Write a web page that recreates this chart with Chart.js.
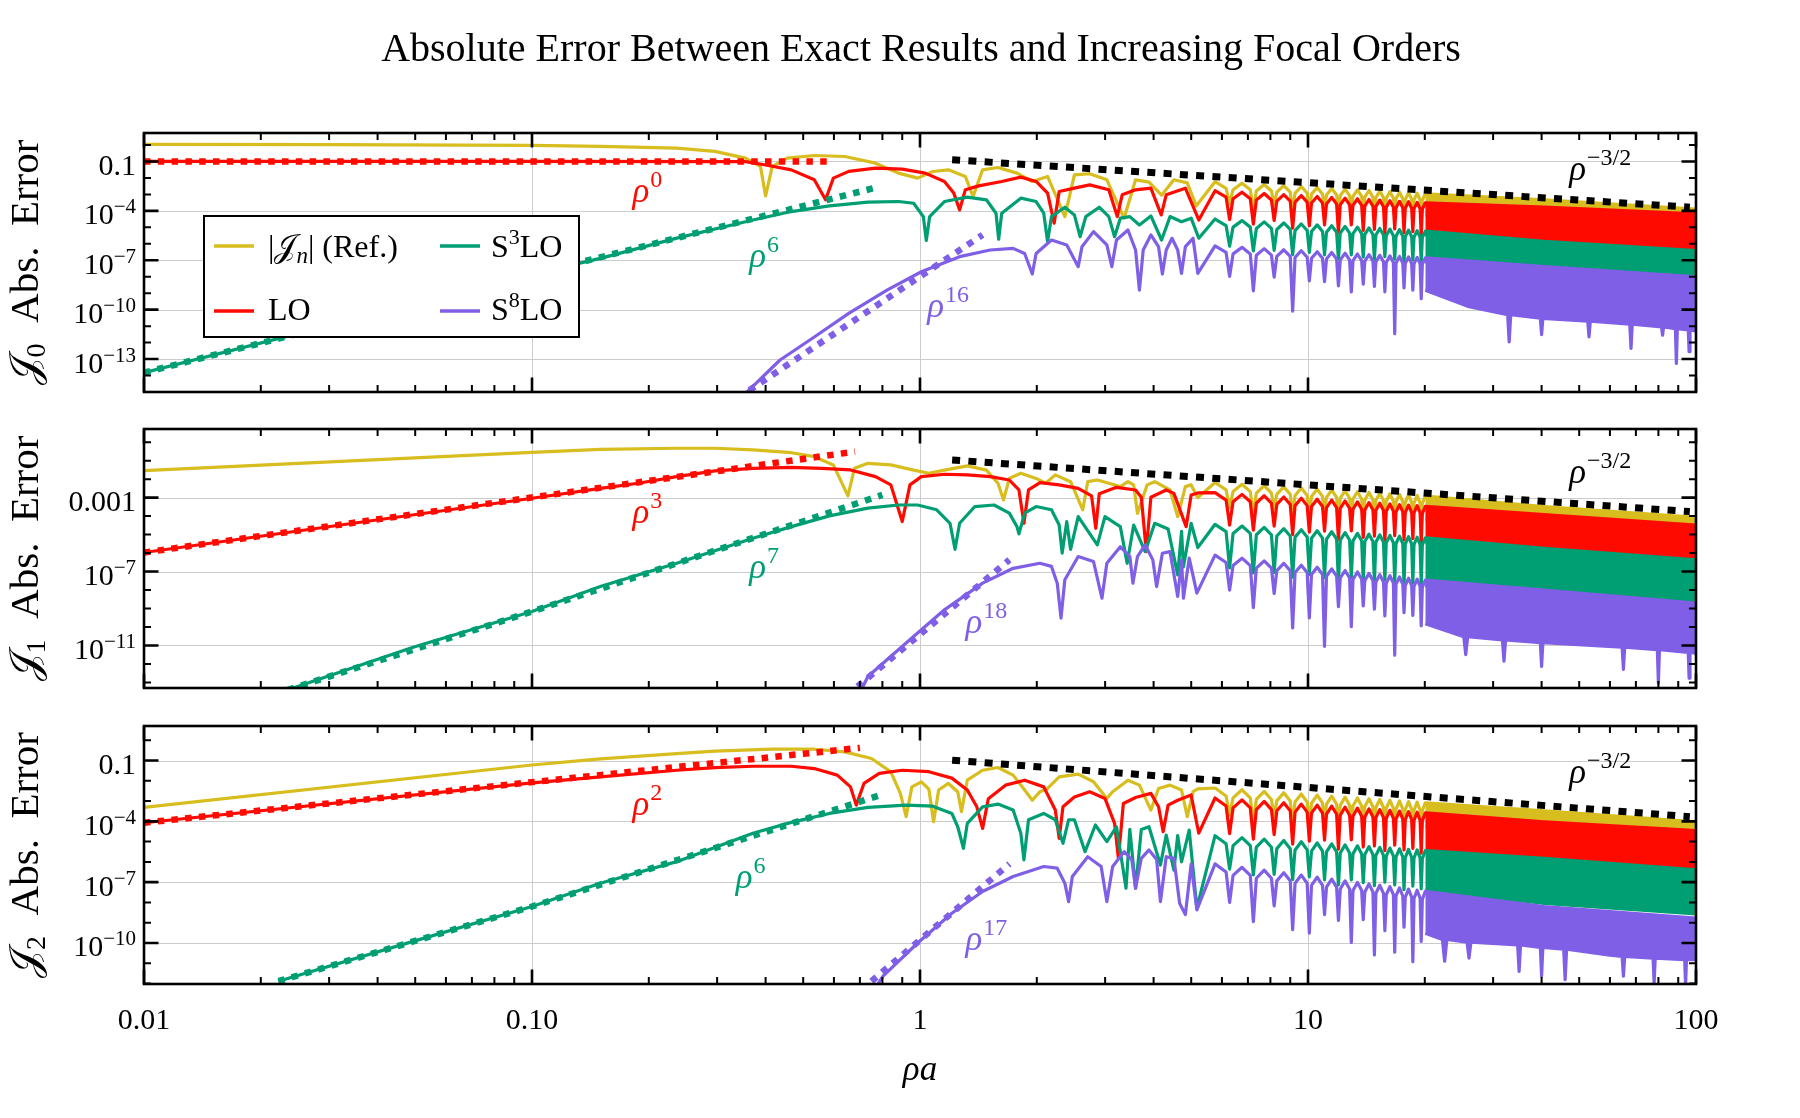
<!DOCTYPE html>
<html><head><meta charset="utf-8">
<script src="https://cdn.jsdelivr.net/npm/chart.js@4.4.1/dist/chart.umd.min.js"></script>
<style>
html,body{margin:0;padding:0;background:#fff;}
#wrap{position:relative;width:1800px;height:1118px;overflow:hidden;background:#fff;}
canvas{position:absolute;left:0;top:0;}
</style></head><body>
<div id="wrap">
<canvas id="c1" width="1800" height="1118"></canvas>
<canvas id="c2" width="1800" height="1118"></canvas>
<canvas id="c3" width="1800" height="1118"></canvas>
</div>
<script>
// ---------------- DATA (read / estimated from the reference picture) ----------------
const xTickValues = [0.01, 0.1, 1, 10, 100];
const xTickLabels = ["0.01", "0.10", "1", "10", "100"];
const seriesNames = ["|Jn| (Ref.)", "LO", "S3LO", "S8LO"];

// ===== Panel 1 : J0 =====
const p1_yTickValues = [1e-1, 1e-4, 1e-7, 1e-10, 1e-13];
const p1_yTickLabels = ["0.1", "10^\u22124", "10^\u22127", "10^\u221210", "10^\u221213"];
const p1_ref = [[0.01,1.1],[0.03,1.05],[0.1,0.95],[0.15,0.82],[0.236,0.65],[0.296,0.41],[0.355,0.16],[0.388,0.05],[0.400,8e-4],[0.416,0.05],[0.455,0.16],[0.534,0.23],[0.640,0.2],[0.768,0.079],[0.880,0.0196],[0.986,0.0097],[1.079,0.0247],[1.183,0.031],[1.309,0.0123],[1.370,7.4e-4],[1.450,0.031],[1.588,0.043],[1.778,0.0196],[1.947,0.0061],[2.132,0.0123],[2.362,4.5e-5],[2.500,0.0155],[2.737,0.018],[3.031,0.0077],[3.358,3.6e-5],[3.594,0.0077],[3.892,0.0056],[4.194,9e-4],[4.512,0.0077],[4.885,0.005],[5.15,2e-4]];
const p1_refZig = [[5.76,5.9e-3],[6.15,2.36e-3],[6.28,2.65e-4],[6.41,1.92e-3],[6.76,4.8e-3],[7.10,1.92e-3],[7.23,1.1e-4],[7.36,1.6e-3],[7.71,4.0e-3],[8.05,1.6e-3],[8.18,2.3e-4],[8.31,1.36e-3],[8.66,3.4e-3],[9.00,1.36e-3],[9.13,1.0e-4],[9.26,1.2e-3],[9.61,3.0e-3],[9.95,1.2e-3],[10.08,1.1e-4],[10.21,1.04e-3],[10.56,2.6e-3],[10.90,1.04e-3],[11.03,1.56e-4],[11.16,9.2e-4],[11.51,2.3e-3],[11.85,9.2e-4],[11.98,5.5e-5],[12.11,8.4e-4],[12.46,2.1e-3],[12.80,8.4e-4],[12.93,1.0e-4],[13.06,7.6e-4],[13.41,1.9e-3],[13.75,7.6e-4],[13.88,5.7e-5],[14.01,6.9e-4],[14.36,1.73e-3],[14.70,6.9e-4],[14.83,6.6e-5],[14.96,6.4e-4],[15.31,1.59e-3],[15.65,6.4e-4],[15.78,3.8e-5],[15.91,5.8e-4],[16.26,1.46e-3],[16.60,5.8e-4],[16.73,7.0e-5],[16.86,5.4e-4],[17.21,1.35e-3],[17.55,5.4e-4],[17.68,4.1e-5],[17.81,5.0e-4],[18.16,1.26e-3],[18.50,5.0e-4],[18.63,4.9e-5],[18.76,4.7e-4],[19.11,1.18e-3],[19.45,4.7e-4],[19.58,2.9e-5],[19.71,4.4e-4],[20.06,1.1e-3]];
const p1_refTail = [[40.6,4.7e-4],[100,1.26e-4]];
const p1_refFloor = [[20.06,5e-5],[40.6,6e-5],[100,3.6e-5]];
const p1_lo = [[0.01,0.1],[0.1,0.1],[0.355,0.098],[0.397,0.063],[0.466,0.031],[0.534,0.0077],[0.571,4.7e-4],[0.598,0.0097],[0.655,0.025],[0.768,0.039],[0.900,0.034],[1.031,0.0196],[1.156,0.0061],[1.222,1.2e-3],[1.265,1.15e-4],[1.309,1.9e-3],[1.417,3.3e-3],[1.624,6.1e-3],[1.819,0.0112],[1.992,6.1e-3],[2.132,1.19e-3],[2.217,1.8e-5],[2.284,1.5e-3],[2.500,2.4e-3],[2.737,3.8e-3],[3.066,1.9e-3],[3.224,4.5e-5],[3.320,9.4e-4],[3.594,1.9e-3],[3.936,2.4e-3],[4.185,5.7e-5],[4.311,9.4e-4],[4.830,2.4e-3],[5.23,2.8e-5]];
const p1_loZig = [[5.76,1.69e-3],[6.15,6.8e-4],[6.28,3.0e-5],[6.41,5.4e-4],[6.76,1.36e-3],[7.10,5.4e-4],[7.23,1.56e-5],[7.36,4.6e-4],[7.71,1.14e-3],[8.05,4.6e-4],[8.18,2.6e-5],[8.31,3.9e-4],[8.66,9.7e-4],[9.00,3.9e-4],[9.13,9.0e-6],[9.26,3.4e-4],[9.61,8.5e-4],[9.95,3.4e-4],[10.08,1.25e-5],[10.21,3.0e-4],[10.56,7.4e-4],[10.90,3.0e-4],[11.03,1.4e-5],[11.16,2.6e-4],[11.51,6.6e-4],[11.85,2.6e-4],[11.98,5.0e-6],[12.11,2.36e-4],[12.46,5.9e-4],[12.80,2.36e-4],[12.93,1.42e-5],[13.06,2.16e-4],[13.41,5.4e-4],[13.75,2.16e-4],[13.88,6.5e-6],[14.01,1.96e-4],[14.36,4.9e-4],[14.70,1.96e-4],[14.83,7.4e-6],[14.96,1.8e-4],[15.31,4.5e-4],[15.65,1.8e-4],[15.78,4.3e-6],[15.91,1.64e-4],[16.26,4.1e-4],[16.60,1.64e-4],[16.73,8.0e-6],[16.86,1.52e-4],[17.21,3.8e-4],[17.55,1.52e-4],[17.68,4.7e-6],[17.81,1.44e-4],[18.16,3.6e-4],[18.50,1.44e-4],[18.63,5.5e-6],[18.76,1.32e-4],[19.11,3.3e-4],[19.45,1.32e-4],[19.58,3.2e-6],[19.71,1.24e-4],[20.06,3.1e-4]];
const p1_loTail = [[40.6,1.67e-4],[100,6.6e-5]];
const p1_loFloor = [[20.06,3.5e-6],[40.6,1.7e-6],[100,5.3e-7]];
const p1_s3 = [[0.01,1.5e-14],[0.1,1.45e-8],[0.15,1.3e-7],[0.236,2.2e-6],[0.371,2.8e-5],[0.466,9.1e-5],[0.584,2e-4],[0.734,3.4e-4],[0.880,3.7e-4],[0.963,2.9e-4],[1.020,4.5e-5],[1.038,1.6e-6],[1.059,4.5e-5],[1.156,3.7e-4],[1.324,6.8e-4],[1.483,4.7e-4],[1.570,7.2e-5],[1.595,1.9e-6],[1.624,7.2e-5],[1.819,5.9e-4],[1.992,3.7e-4],[2.084,7.2e-5],[2.132,1.35e-6],[2.182,4.5e-5],[2.362,1.67e-4],[2.500,5.7e-5],[2.586,2.7e-6],[2.675,4.5e-5],[2.897,1.67e-4],[3.066,4.5e-5],[3.173,2.7e-6],[3.283,3.6e-5],[3.474,4.5e-5],[3.677,1.4e-5],[3.936,4.9e-5],[4.194,1.7e-6],[4.410,4.5e-5],[4.721,2.2e-5],[4.998,3.6e-5],[5.23,2.2e-6]];
const p1_s3Zig = [[5.76,3.2e-5],[6.15,1.28e-5],[6.28,7.1e-7],[6.41,1.03e-5],[6.76,2.57e-5],[7.10,1.03e-5],[7.23,3.7e-7],[7.36,8.6e-6],[7.71,2.15e-5],[8.05,8.6e-6],[8.18,4.0e-7],[8.31,7.4e-6],[8.66,1.84e-5],[9.00,7.4e-6],[9.13,2.2e-7],[9.26,6.4e-6],[9.61,1.6e-5],[9.95,6.4e-6],[10.08,3.0e-7],[10.21,5.6e-6],[10.56,1.41e-5],[10.90,5.6e-6],[11.03,2.1e-7],[11.16,5.0e-6],[11.51,1.25e-5],[11.85,5.0e-6],[11.98,1.19e-7],[12.11,4.5e-6],[12.46,1.13e-5],[12.80,4.5e-6],[12.93,2.1e-7],[13.06,4.1e-6],[13.41,1.02e-5],[13.75,4.1e-6],[13.88,1.54e-7],[14.01,3.7e-6],[14.36,9.3e-6],[14.70,3.7e-6],[14.83,1.12e-7],[14.96,3.4e-6],[15.31,8.5e-6],[15.65,3.4e-6],[15.78,1.64e-7],[15.91,3.1e-6],[16.26,7.8e-6],[16.60,3.1e-6],[16.73,1.2e-7],[16.86,2.9e-6],[17.21,7.3e-6],[17.55,2.9e-6],[17.68,7.0e-8],[17.81,2.7e-6],[18.16,6.8e-6],[18.50,2.7e-6],[18.63,1.04e-7],[18.76,2.5e-6],[19.11,6.3e-6],[19.45,2.5e-6],[19.58,7.7e-8],[19.71,2.36e-6],[20.06,5.9e-6]];
const p1_s3Tail = [[40.6,1.4e-6],[100,3.8e-7]];
const p1_s3Floor = [[20.06,8e-8],[40.6,2e-8],[100,5e-9]];
const p1_s8 = [[0.34,3e-16],[0.435,8.5e-14],[0.534,2.2e-12],[0.655,5.9e-11],[0.822,1.55e-9],[1.008,2e-8],[1.265,1.66e-7],[1.517,4.2e-7],[1.738,5.3e-7],[1.861,2.6e-7],[1.947,1.46e-8],[1.992,2.6e-7],[2.182,1.7e-6],[2.389,8.5e-7],[2.557,4.1e-8],[2.615,6.7e-7],[2.800,5.5e-6],[3.031,8.5e-7],[3.122,4.1e-8],[3.209,1.7e-6],[3.435,6.9e-6],[3.594,4.2e-7],[3.677,1.55e-9],[3.761,4.2e-7],[3.936,3.45e-6],[4.119,6.7e-7],[4.214,1.46e-8],[4.311,4.2e-7],[4.461,2.16e-6],[4.615,4.2e-7],[4.721,1.6e-8],[4.830,6.7e-7],[5.055,2.16e-6],[5.20,1.6e-8]];
const p1_s8Zig = [[5.76,7.5e-7],[6.15,3.0e-7],[6.28,1.06e-8],[6.41,2.44e-7],[6.76,6.1e-7],[7.10,2.44e-7],[7.23,1.4e-9],[7.36,2.04e-7],[7.71,5.1e-7],[8.05,2.04e-7],[8.18,9.4e-9],[8.31,1.74e-7],[8.66,4.35e-7],[9.00,1.74e-7],[9.13,8e-11],[9.26,1.52e-7],[9.61,3.8e-7],[9.95,1.52e-7],[10.08,5.6e-9],[10.21,1.32e-7],[10.56,3.3e-7],[10.90,1.32e-7],[11.03,5.0e-9],[11.16,1.18e-7],[11.51,2.96e-7],[11.85,1.18e-7],[11.98,2.8e-9],[12.11,1.06e-7],[12.46,2.66e-7],[12.80,1.06e-7],[12.93,1.2e-9],[13.06,9.6e-8],[13.41,2.4e-7],[13.75,9.6e-8],[13.88,3.6e-9],[14.01,8.8e-8],[14.36,2.19e-7],[14.70,8.8e-8],[14.83,2.6e-9],[14.96,8.0e-8],[15.31,2.0e-7],[15.65,8.0e-8],[15.78,1.22e-9],[15.91,7.4e-8],[16.26,1.85e-7],[16.60,7.4e-8],[16.73,3.5e-12],[16.86,6.9e-8],[17.21,1.72e-7],[17.55,6.9e-8],[17.68,2.1e-9],[17.81,6.4e-8],[18.16,1.6e-7],[18.50,6.4e-8],[18.63,1.55e-9],[18.76,6.0e-8],[19.11,1.5e-7],[19.45,6.0e-8],[19.58,4.6e-10],[19.71,5.6e-8],[20.06,1.39e-7]];
const p1_s8Tail = [[40.6,4.1e-8],[100,1e-8]];
const p1_s8Floor = [[20.06,1.5e-9],[26,1.5e-10],[32.7,5e-11],[33,1.1e-12],[33.3,5e-11],[39.7,3e-11],[40,3e-12],[40.3,3e-11],[52.6,2e-11],[53,2.2e-12],[53.4,2e-11],[67.5,1.3e-11],[68,4.4e-13],[68.5,1.3e-11],[81.5,9e-12],[82,2.8e-12],[82.5,9e-12],[88.5,7e-12],[89,5.4e-14],[89.5,7e-12],[95.5,6e-12],[96,2.8e-13],[96.5,6e-12],[100,5e-12]];
const p1_fitLO = [[0.01,0.1],[0.598,0.1]];
const p1_fitS3 = [[0.01,1.5e-14],[0.76,2.4e-3]];
const p1_fitS8 = [[0.363,1.26e-15],[1.45,3.5e-6]];
const p1_slope = [[1.21,0.127],[96.4,1.67e-4]];

// ===== Panel 2 : J1 =====
const p2_yTickValues = [1e-3, 1e-7, 1e-11];
const p2_yTickLabels = ["0.001", "10^\u22127", "10^\u221211"];
const p2_ref = [[0.01,0.029],[0.1,0.28],[0.15,0.41],[0.236,0.47],[0.296,0.47],[0.371,0.38],[0.466,0.27],[0.534,0.165],[0.598,0.059],[0.652,1.24e-3],[0.678,0.039],[0.734,0.072],[0.841,0.059],[0.963,0.031],[1.054,0.021],[1.156,0.031],[1.324,0.052],[1.483,0.031],[1.588,6e-3],[1.642,7.5e-4],[1.699,0.011],[1.819,0.021],[1.992,0.011],[2.108,6e-3],[2.232,0.017],[2.444,7.3e-3],[2.627,2.2e-4],[2.706,7.3e-3],[2.864,9e-3],[3.066,6e-3],[3.283,3.95e-3],[3.435,7.3e-3],[3.554,4.9e-3],[3.635,1.4e-4],[3.848,4.9e-3],[4.027,7.3e-3],[4.410,2.6e-3],[4.615,9.4e-5],[4.830,3.95e-3],[4.998,4.9e-3],[5.2,1e-3]];
const p2_refZig = [[5.76,6.6e-3],[6.15,2.64e-3],[6.28,2.9e-4],[6.41,2.12e-3],[6.76,5.3e-3],[7.10,2.12e-3],[7.23,1.21e-4],[7.36,1.76e-3],[7.71,4.4e-3],[8.05,1.76e-3],[8.18,2.6e-4],[8.31,1.52e-3],[8.66,3.8e-3],[9.00,1.52e-3],[9.13,1.11e-4],[9.26,1.32e-3],[9.61,3.3e-3],[9.95,1.32e-3],[10.08,1.23e-4],[10.21,1.16e-3],[10.56,2.9e-3],[10.90,1.16e-3],[11.03,1.72e-4],[11.16,1.03e-3],[11.51,2.58e-3],[11.85,1.03e-3],[11.98,6.1e-5],[12.11,9.3e-4],[12.46,2.32e-3],[12.80,9.3e-4],[12.93,1.1e-4],[13.06,8.4e-4],[13.41,2.09e-3],[13.75,8.4e-4],[13.88,6.3e-5],[14.01,7.6e-4],[14.36,1.91e-3],[14.70,7.6e-4],[14.83,7.3e-5],[14.96,7.0e-4],[15.31,1.75e-3],[15.65,7.0e-4],[15.78,4.2e-5],[15.91,6.4e-4],[16.26,1.61e-3],[16.60,6.4e-4],[16.73,7.8e-5],[16.86,6.0e-4],[17.21,1.49e-3],[17.55,6.0e-4],[17.68,4.6e-5],[17.81,5.6e-4],[18.16,1.39e-3],[18.50,5.6e-4],[18.63,5.4e-5],[18.76,5.2e-4],[19.11,1.3e-3],[19.45,5.2e-4],[19.58,3.2e-5],[19.71,4.8e-4],[20.06,1.21e-3]];
const p2_refTail = [[40.6,3.3e-4],[100,8.7e-5]];
const p2_refFloor = [[20.06,6e-5],[40.6,6e-5],[100,3.3e-5]];
const p2_lo = [[0.01,1.07e-6],[0.1,9.3e-4],[0.15,3.2e-3],[0.188,6e-3],[0.236,0.0137],[0.296,0.0278],[0.371,0.0387],[0.466,0.0438],[0.558,0.0387],[0.662,0.0315],[0.768,0.0137],[0.841,4.9e-3],[0.900,5.1e-5],[0.942,4.9e-3],[1.008,0.0137],[1.156,0.0184],[1.324,0.0169],[1.517,0.0137],[1.699,9e-3],[1.799,2.6e-3],[1.853,4.1e-5],[1.904,2.6e-3],[2.038,6.5e-3],[2.284,4.9e-3],[2.557,3.2e-3],[2.768,1.25e-3],[2.838,2.2e-5],[2.897,1.6e-3],[3.209,3.6e-3],[3.594,2.6e-3],[3.719,1.05e-3],[3.830,1.2e-6],[3.936,1.05e-3],[4.311,2.6e-3],[4.512,1.7e-3],[4.852,2.7e-5],[4.998,1.4e-3],[5.2,1.8e-3]];
const p2_loZig = [[5.76,1.86e-3],[6.15,7.4e-4],[6.28,3.3e-5],[6.41,6.0e-4],[6.76,1.5e-3],[7.10,6.0e-4],[7.23,1.73e-5],[7.36,5.0e-4],[7.71,1.26e-3],[8.05,5.0e-4],[8.18,2.9e-5],[8.31,4.3e-4],[8.66,1.08e-3],[9.00,4.3e-4],[9.13,1.0e-5],[9.26,3.7e-4],[9.61,9.3e-4],[9.95,3.7e-4],[10.08,1.38e-5],[10.21,3.3e-4],[10.56,8.2e-4],[10.90,3.3e-4],[11.03,1.55e-5],[11.16,2.9e-4],[11.51,7.3e-4],[11.85,2.9e-4],[11.98,5.5e-6],[12.11,2.64e-4],[12.46,6.6e-4],[12.80,2.64e-4],[12.93,1.57e-5],[13.06,2.36e-4],[13.41,5.9e-4],[13.75,2.36e-4],[13.88,7.1e-6],[14.01,2.16e-4],[14.36,5.4e-4],[14.70,2.16e-4],[14.83,8.2e-6],[14.96,2.0e-4],[15.31,5.0e-4],[15.65,2.0e-4],[15.78,4.8e-6],[15.91,1.84e-4],[16.26,4.6e-4],[16.60,1.84e-4],[16.73,8.8e-6],[16.86,1.68e-4],[17.21,4.2e-4],[17.55,1.68e-4],[17.68,5.2e-6],[17.81,1.56e-4],[18.16,3.9e-4],[18.50,1.56e-4],[18.63,6.0e-6],[18.76,1.48e-4],[19.11,3.7e-4],[19.45,1.48e-4],[19.58,3.6e-6],[19.71,1.36e-4],[20.06,3.4e-4]];
const p2_loTail = [[40.6,1.2e-4],[100,3.3e-5]];
const p2_loFloor = [[20.06,4e-6],[40.6,1.8e-6],[100,4.3e-7]];
const p2_s3 = [[0.0235,4e-14],[0.0494,8.1e-12],[0.1,6.9e-10],[0.15,1.55e-8],[0.236,2.8e-7],[0.371,6.4e-6],[0.466,2.7e-5],[0.584,1.03e-4],[0.734,2.7e-4],[0.880,4e-4],[0.986,4e-4],[1.104,2.2e-4],[1.195,4.1e-5],[1.231,1.6e-6],[1.265,4.1e-5],[1.385,3.3e-4],[1.552,4e-4],[1.699,1.45e-4],[1.778,2.7e-5],[1.799,1.1e-5],[1.861,1.45e-4],[1.992,3.3e-4],[2.182,2.2e-4],[2.284,3.3e-5],[2.325,1e-6],[2.389,5e-5],[2.444,1.6e-6],[2.557,9.4e-5],[2.864,2.8e-6],[2.997,9.4e-5],[3.283,2.7e-5],[3.419,2.8e-7],[3.554,3.3e-5],[3.804,1.2e-6],[4.027,4.1e-5],[4.360,2e-5],[4.615,6.6e-8],[4.722,1.5e-5],[4.775,1.8e-7],[4.998,4.1e-5],[5.2,2e-6]];
const p2_s3Zig = [[5.76,3.6e-5],[6.15,1.44e-5],[6.28,1.6e-7],[6.41,1.16e-5],[6.76,2.9e-5],[7.10,1.16e-5],[7.23,8.4e-8],[7.36,9.8e-6],[7.71,2.45e-5],[8.05,9.8e-6],[8.18,9e-8],[8.31,8.4e-6],[8.66,2.1e-5],[9.00,8.4e-6],[9.13,5e-8],[9.26,7.3e-6],[9.61,1.82e-5],[9.95,7.3e-6],[10.08,6.8e-8],[10.21,6.4e-6],[10.56,1.61e-5],[10.90,6.4e-6],[11.03,4.8e-8],[11.16,5.7e-6],[11.51,1.43e-5],[11.85,5.7e-6],[11.98,2.7e-8],[12.11,5.1e-6],[12.46,1.28e-5],[12.80,5.1e-6],[12.93,4.8e-8],[13.06,4.6e-6],[13.41,1.16e-5],[13.75,4.6e-6],[13.88,3.5e-8],[14.01,4.2e-6],[14.36,1.06e-5],[14.70,4.2e-6],[14.83,2.6e-8],[14.96,3.9e-6],[15.31,9.7e-6],[15.65,3.9e-6],[15.78,3.7e-8],[15.91,3.6e-6],[16.26,8.9e-6],[16.60,3.6e-6],[16.73,2.7e-8],[16.86,3.3e-6],[17.21,8.3e-6],[17.55,3.3e-6],[17.68,1.6e-8],[17.81,3.1e-6],[18.16,7.7e-6],[18.50,3.1e-6],[18.63,2.4e-8],[18.76,2.9e-6],[19.11,7.2e-6],[19.45,2.9e-6],[19.58,1.8e-8],[19.71,2.7e-6],[20.06,6.7e-6]];
const p2_s3Tail = [[40.6,1.8e-6],[100,4.3e-7]];
const p2_s3Floor = [[20.06,1.6e-8],[40.6,1e-8],[100,2.1e-9]];
const p2_s8 = [[0.71,5e-14],[0.734,2.1e-13],[0.921,1.35e-11],[1.156,8.5e-10],[1.450,2.35e-8],[1.738,1.5e-7],[2.038,2.8e-7],[2.182,1.9e-7],[2.258,2.35e-8],[2.309,3e-10],[2.362,3.6e-8],[2.557,6.5e-7],[2.800,3.5e-7],[2.944,3.6e-9],[3.031,2.8e-7],[3.283,2.2e-6],[3.474,6.5e-7],[3.538,2.35e-8],[3.635,6.5e-7],[3.804,2.8e-6],[3.981,4.3e-7],[4.073,1.55e-8],[4.214,9.8e-7],[4.410,1.2e-6],[4.615,4.5e-9],[4.722,4e-7],[4.775,3.6e-9],[4.941,5.3e-7],[5.171,6.8e-9]];
const p2_s8Zig = [[5.76,7.8e-7],[6.15,3.1e-7],[6.28,1.0e-8],[6.41,2.1e-7],[6.76,5.3e-7],[7.10,2.1e-7],[7.23,1.12e-9],[7.36,1.52e-7],[7.71,3.8e-7],[8.05,1.52e-7],[8.18,6.5e-9],[8.31,1.12e-7],[8.66,2.8e-7],[9.00,1.12e-7],[9.13,9e-11],[9.26,8.8e-8],[9.61,2.2e-7],[9.95,8.8e-8],[10.08,3.1e-10],[10.21,6.9e-8],[10.56,1.72e-7],[10.90,6.9e-8],[11.03,9e-12],[11.16,5.6e-8],[11.51,1.39e-7],[11.85,5.6e-8],[11.98,1.25e-9],[12.11,4.6e-8],[12.46,1.14e-7],[12.80,4.6e-8],[12.93,1.04e-10],[13.06,3.8e-8],[13.41,9.5e-8],[13.75,3.8e-8],[13.88,1.38e-9],[14.01,3.2e-8],[14.36,8.0e-8],[14.70,3.2e-8],[14.83,9.3e-10],[14.96,2.7e-8],[15.31,6.8e-8],[15.65,2.7e-8],[15.78,4.0e-10],[15.91,2.36e-8],[16.26,5.9e-8],[16.60,2.36e-8],[16.73,3e-12],[16.86,2.04e-8],[17.21,5.1e-8],[17.55,2.04e-8],[17.68,6.0e-10],[17.81,1.76e-8],[18.16,4.4e-8],[18.50,1.76e-8],[18.63,4.2e-10],[18.76,1.56e-8],[19.11,3.9e-8],[19.45,1.56e-8],[19.58,1.16e-10],[19.71,1.4e-8],[20.06,3.5e-8]];
const p2_s8Tail = [[40.6,1e-8],[100,1.95e-9]];
const p2_s8Floor = [[20.06,1.5e-10],[25.2,3e-11],[25.5,3.2e-12],[25.8,3e-11],[31.7,2e-11],[32,1.4e-12],[32.3,2e-11],[39.7,1.4e-11],[40,7.4e-13],[40.3,1.4e-11],[64.5,8e-12],[65,5e-13],[65.5,8e-12],[79.5,6e-12],[80,9.3e-14],[80.5,6e-12],[95.5,4.2e-12],[96,1.7e-13],[96.5,4.2e-12],[100,3.9e-12]];
const p2_fitLO = [[0.01,1.07e-6],[0.68,0.31]];
const p2_fitS3 = [[0.0235,4e-14],[0.1,6.9e-10],[0.8,1.4e-3]];
const p2_fitS8 = [[0.69,6e-14],[1.70,4.3e-7]];
const p2_slope = [[1.21,0.109],[96.4,1.76e-4]];

// ===== Panel 3 : J2 =====
const p3_yTickValues = [1e-1, 1e-4, 1e-7, 1e-10];
const p3_yTickLabels = ["0.1", "10^\u22124", "10^\u22127", "10^\u221210"];
const p3_ref = [[0.01,4.9e-4],[0.1,0.06],[0.15,0.12],[0.236,0.22],[0.296,0.29],[0.416,0.36],[0.534,0.36],[0.640,0.265],[0.750,0.125],[0.841,0.0276],[0.890,2.4e-3],[0.921,1.7e-4],[0.953,5e-3],[1.008,8.9e-3],[1.054,3.9e-3],[1.084,9.6e-5],[1.117,3.5e-3],[1.183,7.4e-3],[1.251,2.9e-3],[1.279,3e-4],[1.324,0.0107],[1.450,0.033],[1.588,0.045],[1.738,0.019],[1.861,3.5e-3],[1.947,1.1e-3],[2.038,2.9e-3],[2.132,4.2e-3],[2.284,0.0157],[2.557,0.0212],[2.800,8.9e-3],[3.031,1.35e-3],[3.137,2.9e-3],[3.435,0.0107],[3.677,6.1e-3],[3.936,3.6e-4],[4.119,4.2e-3],[4.410,6.1e-3],[4.721,3.5e-3],[4.885,1.7e-4],[5.055,2.9e-3],[5.2,4e-3]];
const p3_refZig = [[5.76,4.4e-3],[6.15,1.76e-3],[6.28,2.0e-4],[6.41,1.44e-3],[6.76,3.6e-3],[7.10,1.44e-3],[7.23,8.2e-5],[7.36,1.2e-3],[7.71,3.0e-3],[8.05,1.2e-3],[8.18,1.74e-4],[8.31,1.02e-3],[8.66,2.56e-3],[9.00,1.02e-3],[9.13,7.5e-5],[9.26,8.9e-4],[9.61,2.22e-3],[9.95,8.9e-4],[10.08,8.3e-5],[10.21,7.8e-4],[10.56,1.96e-3],[10.90,7.8e-4],[11.03,1.17e-4],[11.16,7.0e-4],[11.51,1.74e-3],[11.85,7.0e-4],[11.98,4.1e-5],[12.11,6.2e-4],[12.46,1.56e-3],[12.80,6.2e-4],[12.93,7.5e-5],[13.06,5.7e-4],[13.41,1.42e-3],[13.75,5.7e-4],[13.88,4.3e-5],[14.01,5.2e-4],[14.36,1.29e-3],[14.70,5.2e-4],[14.83,4.9e-5],[14.96,4.8e-4],[15.31,1.19e-3],[15.65,4.8e-4],[15.78,2.9e-5],[15.91,4.4e-4],[16.26,1.09e-3],[16.60,4.4e-4],[16.73,5.3e-5],[16.86,4.0e-4],[17.21,1.01e-3],[17.55,4.0e-4],[17.68,3.1e-5],[17.81,3.8e-4],[18.16,9.4e-4],[18.50,3.8e-4],[18.63,3.6e-5],[18.76,3.5e-4],[19.11,8.8e-4],[19.45,3.5e-4],[19.58,2.1e-5],[19.71,3.3e-4],[20.06,8.2e-4]];
const p3_refTail = [[40.6,3.3e-4],[100,9.5e-5]];
const p3_refFloor = [[20.06,5e-5],[40.6,5e-5],[100,3.7e-5]];
const p3_lo = [[0.01,8.5e-5],[0.1,7.9e-3],[0.15,0.0157],[0.236,0.033],[0.296,0.045],[0.371,0.052],[0.466,0.052],[0.534,0.040],[0.612,0.019],[0.662,5e-3],[0.685,6.3e-4],[0.717,7.4e-3],[0.785,0.023],[0.900,0.033],[1.054,0.028],[1.208,0.0135],[1.324,3.5e-3],[1.401,5.2e-4],[1.450,4.5e-5],[1.500,1.3e-3],[1.661,6.1e-3],[1.861,0.0107],[2.084,5e-3],[2.232,3.6e-4],[2.284,1.45e-5],[2.336,5.2e-4],[2.500,1.6e-3],[2.737,2.9e-3],[2.997,1.35e-3],[3.173,7.9e-5],[3.246,1.5e-6],[3.343,7.6e-4],[3.594,1.5e-3],[3.936,2.4e-3],[4.119,5.2e-4],[4.233,3.1e-5],[4.360,6.3e-4],[4.615,1.1e-3],[4.998,2e-3],[5.230,2.6e-5]];
const p3_loZig = [[5.76,1.42e-3],[6.15,5.7e-4],[6.28,2.5e-5],[6.41,4.6e-4],[6.76,1.14e-3],[7.10,4.6e-4],[7.23,1.32e-5],[7.36,3.8e-4],[7.71,9.6e-4],[8.05,3.8e-4],[8.18,2.2e-5],[8.31,3.3e-4],[8.66,8.2e-4],[9.00,3.3e-4],[9.13,7.6e-6],[9.26,2.84e-4],[9.61,7.1e-4],[9.95,2.84e-4],[10.08,1.05e-5],[10.21,2.52e-4],[10.56,6.3e-4],[10.90,2.52e-4],[11.03,1.18e-5],[11.16,2.24e-4],[11.51,5.6e-4],[11.85,2.24e-4],[11.98,4.2e-6],[12.11,2.0e-4],[12.46,5.0e-4],[12.80,2.0e-4],[12.93,1.2e-5],[13.06,1.8e-4],[13.41,4.5e-4],[13.75,1.8e-4],[13.88,5.4e-6],[14.01,1.64e-4],[14.36,4.1e-4],[14.70,1.64e-4],[14.83,6.2e-6],[14.96,1.52e-4],[15.31,3.8e-4],[15.65,1.52e-4],[15.78,3.6e-6],[15.91,1.4e-4],[16.26,3.5e-4],[16.60,1.4e-4],[16.73,6.7e-6],[16.86,1.28e-4],[17.21,3.2e-4],[17.55,1.28e-4],[17.68,3.9e-6],[17.81,1.2e-4],[18.16,3.0e-4],[18.50,1.2e-4],[18.63,4.6e-6],[18.76,1.12e-4],[19.11,2.8e-4],[19.45,1.12e-4],[19.58,2.7e-6],[19.71,1.04e-4],[20.06,2.6e-4]];
const p3_loTail = [[40.6,9.5e-5],[100,3.5e-5]];
const p3_loFloor = [[20.06,3e-6],[40.6,1.25e-6],[100,4e-7]];
const p3_s3 = [[0.0222,1.3e-12],[0.0494,1.2e-10],[0.1,6.3e-9],[0.15,8.9e-8],[0.236,1.03e-6],[0.371,2.6e-5],[0.466,8.9e-5],[0.584,2.45e-4],[0.734,4.9e-4],[0.921,6.3e-4],[1.079,5.6e-4],[1.208,2.45e-4],[1.251,5.4e-5],[1.294,4.7e-6],[1.324,7.9e-5],[1.450,5.2e-4],[1.588,7.1e-4],[1.738,3.6e-4],[1.819,2.6e-5],[1.853,1.25e-6],[1.904,1.2e-4],[2.084,2.45e-4],[2.232,1.2e-4],[2.336,8.2e-6],[2.416,1.2e-4],[2.500,1.2e-4],[2.663,3.2e-6],[2.832,6.6e-5],[3.031,1e-5],[3.209,5.4e-5],[3.396,5e-8],[3.474,4e-5],[3.594,5e-8],[3.719,4e-5],[3.892,5.4e-5],[4.166,7e-7],[4.311,2.1e-5],[4.512,3.9e-7],[4.615,2e-5],[4.721,1e-6],[4.941,3.7e-5],[5.171,5.2e-9]];
const p3_s3Zig = [[5.76,1.95e-5],[6.15,7.8e-6],[6.28,4.4e-7],[6.41,6.3e-6],[6.76,1.57e-5],[7.10,6.3e-6],[7.23,2.3e-7],[7.36,5.3e-6],[7.71,1.32e-5],[8.05,5.3e-6],[8.18,2.4e-7],[8.31,4.5e-6],[8.66,1.13e-5],[9.00,4.5e-6],[9.13,1.32e-7],[9.26,3.9e-6],[9.61,9.8e-6],[9.95,3.9e-6],[10.08,1.83e-7],[10.21,3.4e-6],[10.56,8.6e-6],[10.90,3.4e-6],[11.03,1.28e-7],[11.16,3.1e-6],[11.51,7.7e-6],[11.85,3.1e-6],[11.98,7.3e-8],[12.11,2.76e-6],[12.46,6.9e-6],[12.80,2.76e-6],[12.93,1.31e-7],[13.06,2.48e-6],[13.41,6.2e-6],[13.75,2.48e-6],[13.88,9.4e-8],[14.01,2.28e-6],[14.36,5.7e-6],[14.70,2.28e-6],[14.83,6.8e-8],[14.96,2.08e-6],[15.31,5.2e-6],[15.65,2.08e-6],[15.78,1.0e-7],[15.91,1.92e-6],[16.26,4.8e-6],[16.60,1.92e-6],[16.73,7.3e-8],[16.86,1.76e-6],[17.21,4.4e-6],[17.55,1.76e-6],[17.68,4.3e-8],[17.81,1.64e-6],[18.16,4.1e-6],[18.50,1.64e-6],[18.63,6.3e-8],[18.76,1.56e-6],[19.11,3.9e-6],[19.45,1.56e-6],[19.58,4.7e-8],[19.71,1.44e-6],[20.06,3.6e-6]];
const p3_s3Tail = [[40.6,1.5e-6],[100,4e-7]];
const p3_s3Floor = [[20.06,4e-8],[40.6,9e-9],[100,2.75e-9]];
const p3_s8 = [[0.78,1e-12],[0.803,2.3e-12],[0.986,1e-10],[1.208,2.95e-9],[1.450,3.45e-8],[1.738,1.9e-7],[2.084,5.9e-7],[2.258,4.9e-7],[2.362,8.9e-8],[2.416,1.1e-8],[2.470,1.9e-7],[2.706,1.8e-6],[2.930,5.9e-7],[3.031,1.1e-8],[3.137,5.9e-7],[3.358,3.2e-6],[3.514,1.3e-6],[3.594,5e-8],[3.719,1.5e-6],[3.892,3.9e-6],[4.073,1.3e-6],[4.166,1.1e-8],[4.311,1.8e-6],[4.512,1.5e-6],[4.668,9.2e-9],[4.830,2.5e-9],[4.998,7.7e-7],[5.171,4.3e-9]];
const p3_s8Zig = [[5.76,8.0e-7],[6.15,3.2e-7],[6.28,1.0e-8],[6.41,2.16e-7],[6.76,5.4e-7],[7.10,2.16e-7],[7.23,1.14e-9],[7.36,1.56e-7],[7.71,3.9e-7],[8.05,1.56e-7],[8.18,6.7e-9],[8.31,1.16e-7],[8.66,2.9e-7],[9.00,1.16e-7],[9.13,4.5e-10],[9.26,8.9e-8],[9.61,2.23e-7],[9.95,8.9e-8],[10.08,3.1e-10],[10.21,7.0e-8],[10.56,1.76e-7],[10.90,7.0e-8],[11.03,2.5e-9],[11.16,5.7e-8],[11.51,1.42e-7],[11.85,5.7e-8],[11.98,1.3e-9],[12.11,4.6e-8],[12.46,1.16e-7],[12.80,4.6e-8],[12.93,1.06e-10],[13.06,3.9e-8],[13.41,9.7e-8],[13.75,3.9e-8],[13.88,1.4e-9],[14.01,3.3e-8],[14.36,8.2e-8],[14.70,3.3e-8],[14.83,2.6e-11],[14.96,2.8e-8],[15.31,7.0e-8],[15.65,2.8e-8],[15.78,4.1e-10],[15.91,2.4e-8],[16.26,6.0e-8],[16.60,2.4e-8],[16.73,3.5e-11],[16.86,2.08e-8],[17.21,5.2e-8],[17.55,2.08e-8],[17.68,6.1e-10],[17.81,1.8e-8],[18.16,4.5e-8],[18.50,1.8e-8],[18.63,1.2e-11],[18.76,1.6e-8],[19.11,4.0e-8],[19.45,1.6e-8],[19.58,1.2e-10],[19.71,1.4e-8],[20.06,3.5e-8]];
const p3_s8Tail = [[40.6,6.3e-9],[100,1.7e-9]];
const p3_s8Floor = [[20.06,3e-10],[22.2,1.5e-10],[22.5,1.26e-11],[22.8,1.5e-10],[25.7,1.1e-10],[26,1.8e-11],[26.3,1.1e-10],[34.7,8e-11],[35,4e-12],[35.3,8e-11],[39.7,6e-11],[40,2.3e-12],[40.3,6e-11],[45.6,5e-11],[46,1.55e-12],[46.4,5e-11],[60,2.5e-11],[64.5,2.2e-11],[65,2.3e-12],[65.5,2.2e-11],[77.5,1.8e-11],[78,1.1e-12],[78.5,1.8e-11],[93.5,1.5e-11],[94,8e-13],[94.5,1.5e-11],[100,1.5e-11]];
const p3_fitLO = [[0.01,8.5e-5],[0.70,0.42]];
const p3_fitS3 = [[0.0222,1.3e-12],[0.1,6.3e-9],[0.79,1.95e-3]];
const p3_fitS8 = [[0.75,1.3e-12],[1.70,8e-7]];
const p3_slope = [[1.21,0.104],[96.4,1.69e-4]];

// ---------------- STYLE / LAYOUT ----------------
const COLORS = {ref:'#D8BD1E', lo:'#FF0A00', s3:'#009E73', s8:'#7F5FE6', k:'#000000'};
const SERIF = '"Liberation Serif","DejaVu Serif","Times New Roman",serif';
const MATHF = '"DejaVu Sans","DejaVu Serif","Noto Sans",serif';

const panels = [
  {id:1, top:133, bottom:392, yMin:1.0e-15, yMax:5.36, ytv:p1_yTickValues, ytl:p1_yTickLabels, sub:'0',
   series:{ref:[p1_ref,p1_refZig,p1_refTail,p1_refFloor], lo:[p1_lo,p1_loZig,p1_loTail,p1_loFloor], s3:[p1_s3,p1_s3Zig,p1_s3Tail,p1_s3Floor], s8:[p1_s8,p1_s8Zig,p1_s8Tail,p1_s8Floor]},
   fits:{lo:p1_fitLO, s3:p1_fitS3, s8:p1_fitS8}, slope:p1_slope,
   notes:[{x:0.1815,y:3.7e-4,sup:'0',c:'lo'},{x:0.363,y:4.1e-8,sup:'6',c:'s3'},{x:1.044,y:3.7e-11,sup:'16',c:'s8'},{x:47.1,y:7.7e-3,sup:'\u22123/2',c:'k'}]},
  {id:2, top:429, bottom:688, yMin:5.0e-14, yMax:5.18, ytv:p2_yTickValues, ytl:p2_yTickLabels, sub:'1',
   series:{ref:[p2_ref,p2_refZig,p2_refTail,p2_refFloor], lo:[p2_lo,p2_loZig,p2_loTail,p2_loFloor], s3:[p2_s3,p2_s3Zig,p2_s3Tail,p2_s3Floor], s8:[p2_s8,p2_s8Zig,p2_s8Tail,p2_s8Floor]},
   fits:{lo:p2_fitLO, s3:p2_fitS3, s8:p2_fitS8}, slope:p2_slope,
   notes:[{x:0.1815,y:4.2e-5,sup:'3',c:'lo'},{x:0.363,y:4.4e-8,sup:'7',c:'s3'},{x:1.31,y:4.7e-11,sup:'18',c:'s8'},{x:47.1,y:6e-3,sup:'\u22123/2',c:'k'}]},
  {id:3, top:726, bottom:984, yMin:9.5e-13, yMax:5.03, ytv:p3_yTickValues, ytl:p3_yTickLabels, sub:'2',
   series:{ref:[p3_ref,p3_refZig,p3_refTail,p3_refFloor], lo:[p3_lo,p3_loZig,p3_loTail,p3_loFloor], s3:[p3_s3,p3_s3Zig,p3_s3Tail,p3_s3Floor], s8:[p3_s8,p3_s8Zig,p3_s8Tail,p3_s8Floor]},
   fits:{lo:p3_fitLO, s3:p3_fitS3, s8:p3_fitS8}, slope:p3_slope,
   notes:[{x:0.1815,y:2e-4,sup:'2',c:'lo'},{x:0.335,y:5e-8,sup:'6',c:'s3'},{x:1.31,y:4.7e-11,sup:'17',c:'s8'},{x:47.1,y:7.4e-3,sup:'\u22123/2',c:'k'}]}
];

function pts(a){ return a.map(p => ({x:p[0], y:p[1]})); }
function font(p){ return (p.it ? 'italic ' : '') + p.s + 'px ' + (p.f || SERIF); }
function measure(ctx, parts){ let w = 0; for (const p of parts){ ctx.font = font(p); w += ctx.measureText(p.t).width + (p.gap||0); } return w; }
function drawRich(ctx, parts, x, y, align, color){
  const w = measure(ctx, parts);
  let cx = align === 'right' ? x - w : (align === 'center' ? x - w/2 : x);
  ctx.fillStyle = color || '#000'; ctx.textBaseline = 'alphabetic'; ctx.textAlign = 'left';
  for (const p of parts){ ctx.font = font(p); ctx.fillText(p.t, cx, y + (p.dy||0)); cx += ctx.measureText(p.t).width + (p.gap||0); }
}
function tickParts(label){
  const i = label.indexOf('^');
  if (i < 0) return [{t:label, s:30}];
  return [{t:label.slice(0,i), s:30}, {t:label.slice(i+1), s:21, dy:-11}];
}
function isMajor(v, list){ return list.some(t => Math.abs(Math.log10(t) - Math.log10(v)) < 1e-6); }

function buildDatasets(P){
  const ds = [];
  const order = {s8:5, s3:6, lo:7, ref:8};
  ['ref','lo','s3','s8'].forEach(k => {
    const [main, zig, tail, floor] = P.series[k];
    const idx = ds.length;
    ds.push({label:k, data:pts(main.concat(zig, tail)), borderColor:COLORS[k], borderWidth:3.2, pointRadius:0, fill:false, order:order[k], tension:0, clip:0});
    ds.push({label:k+'band', data:pts(floor), borderColor:COLORS[k], backgroundColor:COLORS[k], borderWidth:3.2, pointRadius:0, fill:{target:idx}, order:order[k], tension:0, clip:0});
  });
  const fo = {s8:2, s3:3, lo:4};
  ['lo','s3','s8'].forEach(k => {
    ds.push({label:k+'fit', data:pts(P.fits[k]), borderColor:COLORS[k], borderWidth:6.5, borderDash:[6.5,7.3], borderCapStyle:'butt', pointRadius:0, fill:false, order:fo[k], clip:0});
  });
  ds.push({label:'slope', data:pts(P.slope), borderColor:'#000', borderWidth:7, borderDash:[8,8.3], borderCapStyle:'butt', pointRadius:0, fill:false, order:0, clip:0});
  return ds;
}

function makePlugin(P){
  return {
    id:'panel'+P.id,
    beforeDatasetsDraw(chart){
      const ctx = chart.ctx, a = chart.chartArea, xs = chart.scales.x, ys = chart.scales.y;
      ctx.save(); ctx.strokeStyle = '#cccccc'; ctx.lineWidth = 1;
      for (const v of xTickValues){ const px = Math.round(xs.getPixelForValue(v)) + 0.5; ctx.beginPath(); ctx.moveTo(px, a.top); ctx.lineTo(px, a.bottom); ctx.stroke(); }
      for (const v of P.ytv){ const py = Math.round(ys.getPixelForValue(v)) + 0.5; ctx.beginPath(); ctx.moveTo(a.left, py); ctx.lineTo(a.right, py); ctx.stroke(); }
      ctx.restore();
    },
    afterDatasetsDraw(chart){
      const ctx = chart.ctx, a = chart.chartArea, xs = chart.scales.x, ys = chart.scales.y;
      ctx.save();
      for (const n of P.notes){
        const px = xs.getPixelForValue(n.x), py = ys.getPixelForValue(n.y);
        drawRich(ctx, [{t:'\u03C1', s:35, it:true, gap:1}, {t:n.sup, s:24, dy:-15}], px, py, 'left', COLORS[n.c]);
      }
      ctx.strokeStyle = '#000'; ctx.lineWidth = 2.6;
      ctx.strokeRect(a.left, a.top, a.right - a.left, a.bottom - a.top);
      for (let d = -2; d <= 2; d++){
        for (let k = 1; k <= 9; k++){
          const v = k * Math.pow(10, d); if (v > 100.0001) break;
          const px = xs.getPixelForValue(v), len = k === 1 ? 14.5 : 7;
          ctx.lineWidth = k === 1 ? 2.6 : 2;
          ctx.beginPath(); ctx.moveTo(px, a.bottom); ctx.lineTo(px, a.bottom - len); ctx.moveTo(px, a.top); ctx.lineTo(px, a.top + len); ctx.stroke();
        }
      }
      const e0 = Math.ceil(Math.log10(P.yMin) - 1e-9), e1 = Math.floor(Math.log10(P.yMax) + 1e-9);
      for (let e = e0; e <= e1; e++){
        const v = Math.pow(10, e), maj = isMajor(v, P.ytv), py = ys.getPixelForValue(v), len = maj ? 14.5 : 7;
        ctx.lineWidth = maj ? 2.6 : 2;
        ctx.beginPath(); ctx.moveTo(a.left, py); ctx.lineTo(a.left + len, py); ctx.moveTo(a.right, py); ctx.lineTo(a.right - len, py); ctx.stroke();
      }
      P.ytv.forEach((v, i) => { drawRich(ctx, tickParts(P.ytl[i]), 136, ys.getPixelForValue(v) + 13.5, 'right', '#000'); });
      ctx.save();
      ctx.translate(38, (a.top + a.bottom) / 2); ctx.rotate(-Math.PI / 2);
      drawRich(ctx, [{t:'\uD835\uDCA5', s:41, f:MATHF}, {t:P.sub, s:28, dy:7}, {t:'  Abs.  Error', s:41}], 0, 0, 'center', '#000');
      ctx.restore();
      if (P.id === 1){
        drawRich(ctx, [{t:'Absolute Error Between Exact Results and Increasing Focal Orders', s:40}], 921, 61, 'center', '#000');
        ctx.fillStyle = '#fff'; ctx.fillRect(204, 216, 375, 121);
        ctx.strokeStyle = '#000'; ctx.lineWidth = 2; ctx.strokeRect(204, 216, 375, 121);
        const rows = [
          {c:'ref', x0:214, y:246, tx:268, ty:256.5, parts:[{t:'|', s:32}, {t:'\uD835\uDCA5', s:32, f:MATHF}, {t:'n', s:23, it:true, dy:6}, {t:'|', s:32}, {t:' (Ref.)', s:32}]},
          {c:'lo', x0:214, y:311, tx:268, ty:319.5, parts:[{t:'LO', s:32}]},
          {c:'s3', x0:440, y:246, tx:491, ty:256.5, parts:[{t:'S', s:32}, {t:'3', s:22, dy:-13}, {t:'LO', s:32}]},
          {c:'s8', x0:440, y:311, tx:491, ty:319.5, parts:[{t:'S', s:32}, {t:'8', s:22, dy:-13}, {t:'LO', s:32}]}
        ];
        for (const r of rows){
          ctx.strokeStyle = COLORS[r.c]; ctx.lineWidth = 3.5;
          ctx.beginPath(); ctx.moveTo(r.x0, r.y); ctx.lineTo(r.x0 + 40, r.y); ctx.stroke();
          drawRich(ctx, r.parts, r.tx, r.ty, 'left', '#000');
        }
      }
      if (P.id === 3){
        xTickValues.forEach((v, i) => { drawRich(ctx, [{t:xTickLabels[i], s:30}], xs.getPixelForValue(v), 1029, 'center', '#000'); });
        drawRich(ctx, [{t:'\u03C1a', s:35, it:true}], (a.left + a.right) / 2, 1080, 'center', '#000');
      }
      ctx.restore();
    }
  };
}

panels.forEach(P => {
  new Chart(document.getElementById('c' + P.id), {
    type:'line',
    data:{datasets:buildDatasets(P)},
    options:{
      responsive:false, animation:false, devicePixelRatio:1, events:[],
      layout:{padding:{left:144, right:104, top:P.top, bottom:1118 - P.bottom}},
      scales:{
        x:{type:'logarithmic', min:0.01, max:100, display:false},
        y:{type:'logarithmic', min:P.yMin, max:P.yMax, display:false}
      },
      plugins:{legend:{display:false}, tooltip:{enabled:false}, title:{display:false}},
      elements:{line:{borderJoinStyle:'round'}}
    },
    plugins:[makePlugin(P)]
  });
});
</script>
</body></html>
